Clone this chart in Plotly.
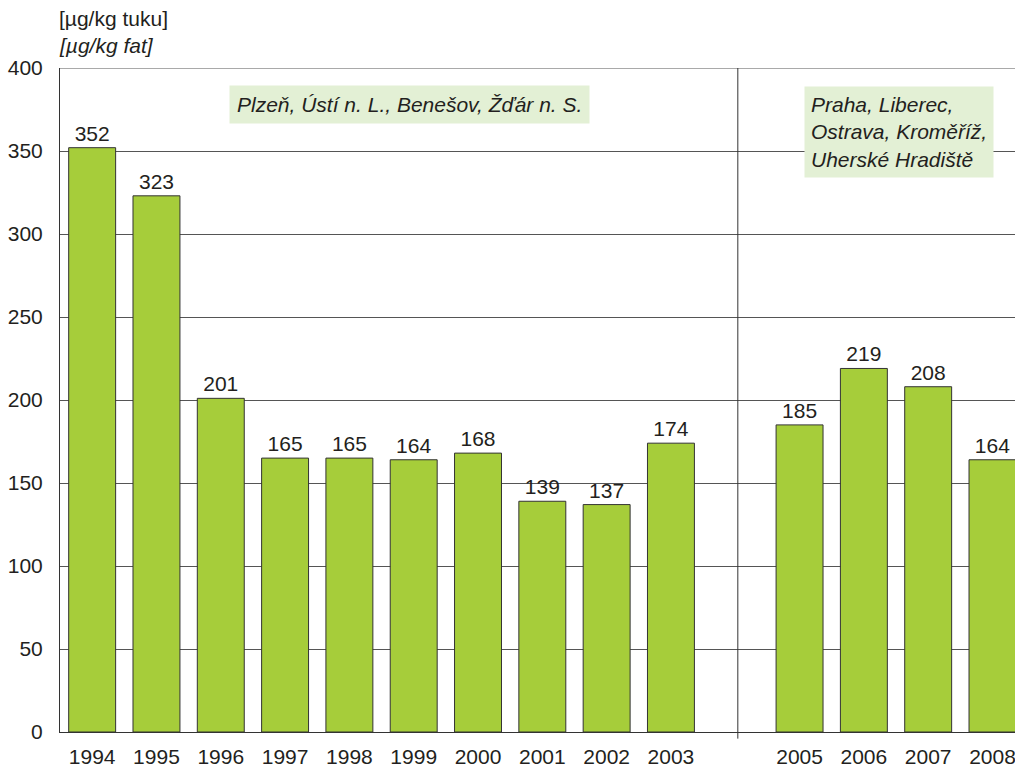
import plotly.graph_objects as go

years = ["1994", "1995", "1996", "1997", "1998", "1999", "2000", "2001", "2002", "2003",
         "2005", "2006", "2007", "2008"]
values = [352, 323, 201, 165, 165, 164, 168, 139, 137, 174, 185, 219, 208, 164]
all_categories = ["1994", "1995", "1996", "1997", "1998", "1999", "2000", "2001", "2002", "2003",
                  "2004", "2005", "2006", "2007", "2008"]
y_ticks = [0, 50, 100, 150, 200, 250, 300, 350, 400]
region_1 = "Plzeň, Ústí n. L., Benešov, Žďár n. S."
region_2 = "Praha, Liberec,<br>Ostrava, Kroměříž,<br>Uherské Hradiště"

FONT = "Liberation Sans, Arial, sans-serif"
TXT = "#231f20"
FS = 21

fig = go.Figure()
fig.add_trace(go.Bar(
    x=years, y=values,
    marker=dict(color="#a6cd3a", line=dict(color="#333333", width=1)),
    text=[str(v) for v in values], textposition="outside",
    textfont=dict(family=FONT, size=FS, color=TXT),
    cliponaxis=False,
))

fig.update_layout(
    width=1015, height=767,
    margin=dict(l=60, r=0, t=68, b=35, autoexpand=False),
    paper_bgcolor="white", plot_bgcolor="white",
    bargap=0.27, showlegend=False,
    font=dict(family=FONT, size=FS, color=TXT),
)
fig.update_xaxes(
    type="category", categoryorder="array", categoryarray=all_categories,
    range=[-0.5, 14.35], tickvals=years, ticktext=years,
    showline=True, linecolor="#333333", linewidth=1, showgrid=False,
    ticks="", ticklabelstandoff=6, automargin=False,
    tickfont=dict(family=FONT, size=FS, color=TXT),
)
fig.update_yaxes(
    range=[0, 400], tickvals=y_ticks,
    showline=True, linecolor="#333333", linewidth=1,
    showgrid=True, gridcolor="#555555", gridwidth=1, zeroline=False,
    ticks="", ticklabelstandoff=12, automargin=False,
    tickfont=dict(family=FONT, size=FS, color=TXT),
)

# top border at 400
fig.add_shape(type="line", xref="paper", yref="y", x0=0, x1=1, y0=400, y1=400,
              line=dict(color="#555555", width=1), layer="below")
# separator between the two periods
fig.add_shape(type="line", xref="x", yref="paper", x0=10.04, x1=10.04, y0=-0.01, y1=1,
              line=dict(color="#333333", width=1), layer="above")

fig.add_annotation(text="[µg/kg tuku]", xref="paper", yref="paper", x=0, y=1,
                   xanchor="left", yanchor="middle", yshift=50, xshift=-3, showarrow=False,
                   font=dict(family=FONT, size=FS, color=TXT), align="left")
fig.add_annotation(text="<i>[µg/kg fat]</i>", xref="paper", yref="paper", x=0, y=1,
                   xanchor="left", yanchor="middle", yshift=23, xshift=-3, showarrow=False,
                   font=dict(family=FONT, size=FS, color=TXT), align="left")

fig.add_annotation(text="<i>" + region_1 + "</i>", xref="paper", yref="paper",
                   x=0.366, y=0.945, xanchor="center", yanchor="middle",
                   showarrow=False, align="left",
                   bgcolor="#e3f0d5", borderpad=7,
                   font=dict(family=FONT, size=FS, color=TXT))
fig.add_annotation(text="<i>" + region_2 + "</i>", xref="paper", yref="paper",
                   x=0.879, y=0.903, xanchor="center", yanchor="middle",
                   showarrow=False, align="left",
                   bgcolor="#e3f0d5", borderpad=6,
                   font=dict(family=FONT, size=FS, color=TXT))

fig.write_html(
    "out.html",
    config={"displayModeBar": False},
    post_script="document.body.style.margin='0';document.documentElement.style.overflow='hidden';",
)
